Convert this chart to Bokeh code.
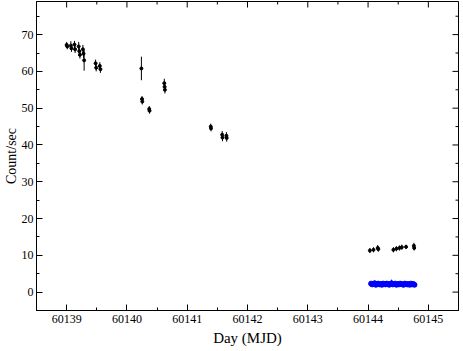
import math
from bokeh.plotting import figure
from bokeh.models import Range1d, FixedTicker
from bokeh.embed import file_html
from bokeh.resources import INLINE

# Black series (MJD, count/sec, error)
black_day = [60139.00, 60139.01, 60139.07, 60139.08, 60139.13, 60139.14,
             60139.20, 60139.21, 60139.22, 60139.27, 60139.28, 60139.29,
             60139.48, 60139.49, 60139.55, 60139.56,
             60140.24, 60140.25, 60140.255, 60140.37, 60140.375,
             60140.62, 60140.625, 60140.63,
             60141.39, 60141.395, 60141.58, 60141.585, 60141.65, 60141.655,
             60144.03, 60144.09, 60144.16, 60144.17,
             60144.42, 60144.47, 60144.52, 60144.56, 60144.63,
             60144.76, 60144.765]
black_rate = [67.2, 66.8, 67.0, 66.3, 67.3, 66.0,
              66.8, 65.5, 64.5, 66.0, 64.8, 63.0,
              62.2, 61.0, 61.5, 60.6,
              60.8, 52.5, 51.8, 49.8, 49.3,
              56.8, 55.8, 55.0,
              45.0, 44.5, 42.8, 42.0, 42.5, 41.9,
              11.3, 11.5, 12.0, 11.7,
              11.5, 11.8, 12.0, 12.2, 12.3,
              12.6, 12.0]
black_err = [0.8, 0.8, 1.2, 1.0, 1.0, 1.0,
             1.2, 1.0, 1.0, 1.2, 1.2, 2.8,
             1.0, 1.0, 1.0, 1.0,
             3.2, 0.8, 0.8, 0.8, 0.8,
             1.2, 1.0, 1.0,
             0.8, 0.8, 1.0, 1.0, 1.0, 1.0,
             0.7, 0.7, 0.8, 0.7,
             0.7, 0.7, 0.7, 0.7, 0.6,
             0.8, 0.7]

# Blue series
blue_day = [60144.05, 60144.07, 60144.09, 60144.11, 60144.13, 60144.15,
            60144.17, 60144.19, 60144.21, 60144.23, 60144.25, 60144.27,
            60144.29, 60144.31, 60144.33, 60144.35, 60144.37, 60144.39,
            60144.41, 60144.43, 60144.45, 60144.47, 60144.49, 60144.51,
            60144.53, 60144.55, 60144.57, 60144.59, 60144.61, 60144.63,
            60144.65, 60144.67, 60144.69, 60144.71, 60144.73, 60144.75,
            60144.77]
blue_rate = [2.3, 2.1, 2.2, 2.4, 2.0, 2.2, 2.3, 2.1, 2.2, 2.0, 2.3, 2.2,
             2.1, 2.3, 2.2, 2.0, 2.2, 2.4, 2.1, 2.2, 2.3, 2.0, 2.2, 2.1,
             2.3, 2.2, 2.1, 2.0, 2.3, 2.2, 2.1, 2.2, 2.0, 2.3, 2.1, 2.2, 2.0]
blue_err = [0.5, 0.6, 0.5, 0.7, 0.5, 0.5, 0.6, 0.5, 0.6, 0.5, 0.6, 0.5,
            0.5, 0.7, 0.5, 0.5, 0.6, 1.0, 0.5, 0.6, 0.5, 0.5, 0.6, 0.5,
            0.5, 0.6, 0.5, 0.5, 0.7, 0.5, 0.5, 0.6, 0.5, 0.5, 0.6, 0.5, 0.5]

x_ticks = [60139, 60140, 60141, 60142, 60143, 60144, 60145]
x_minor = [60138.5, 60139.5, 60140.5, 60141.5, 60142.5, 60143.5, 60144.5, 60145.5]
y_ticks = [0, 10, 20, 30, 40, 50, 60, 70]
y_minor = [-5, 5, 15, 25, 35, 45, 55, 65, 75]

X0, X1 = 60138.5, 60145.5
Y0, Y1 = -5, 79
FONT = "Liberation Serif"

p = figure(width=460, height=348, output_backend="svg", toolbar_location=None,
           x_range=Range1d(X0, X1), y_range=Range1d(Y0, Y1),
           min_border_left=29, min_border_right=2, min_border_top=1,
           min_border_bottom=30)
p.grid.visible = False
p.outline_line_color = "black"
p.outline_line_width = 1
p.background_fill_color = "white"
p.border_fill_color = "white"

for ax, ticks, minor in ((p.xaxis[0], x_ticks, x_minor), (p.yaxis[0], y_ticks, y_minor)):
    ax.ticker = FixedTicker(ticks=ticks, minor_ticks=minor)
    ax.axis_line_color = "black"
    ax.major_tick_in = 6
    ax.major_tick_out = 0
    ax.minor_tick_in = 3
    ax.minor_tick_out = 0
    ax.major_tick_line_color = "black"
    ax.minor_tick_line_color = "black"
    ax.major_label_text_font = FONT
    ax.major_label_text_font_size = "12px"
    ax.major_label_text_color = "black"
    ax.axis_label_text_font = FONT
    ax.axis_label_text_font_size = "15px"
    ax.axis_label_text_font_style = "normal"
    ax.axis_label_text_color = "black"

p.yaxis.axis_label_text_font_size = "14px"
p.xaxis.axis_label = "Day (MJD)"
p.yaxis.axis_label = "Count/sec"
p.xaxis.major_label_standoff = 4
p.yaxis.major_label_standoff = 3
p.xaxis.axis_label_standoff = 4
p.yaxis.axis_label_standoff = 0
p.xaxis.formatter.use_scientific = False

# mirrored ticks on the top and right edges
p.ray(x=x_ticks, y=[Y1] * len(x_ticks), length=6, length_units="screen",
      angle=-math.pi / 2, line_color="black", line_width=1)
p.ray(x=x_minor, y=[Y1] * len(x_minor), length=3, length_units="screen",
      angle=-math.pi / 2, line_color="black", line_width=1)
p.ray(x=[X1] * len(y_ticks), y=y_ticks, length=6, length_units="screen",
      angle=math.pi, line_color="black", line_width=1)
p.ray(x=[X1] * len(y_minor), y=y_minor, length=3, length_units="screen",
      angle=math.pi, line_color="black", line_width=1)

# error bars
p.segment(x0=black_day, y0=[v - e for v, e in zip(black_rate, black_err)],
          x1=black_day, y1=[v + e for v, e in zip(black_rate, black_err)],
          line_color="black", line_width=1)
p.scatter(black_day, black_rate, size=3, color="black")

p.segment(x0=blue_day, y0=[v - e for v, e in zip(blue_rate, blue_err)],
          x1=blue_day, y1=[v + e for v, e in zip(blue_rate, blue_err)],
          line_color="blue", line_width=1)
p.scatter(blue_day, blue_rate, size=5, color="blue")

open("out.html", "w").write(file_html(p, INLINE))
